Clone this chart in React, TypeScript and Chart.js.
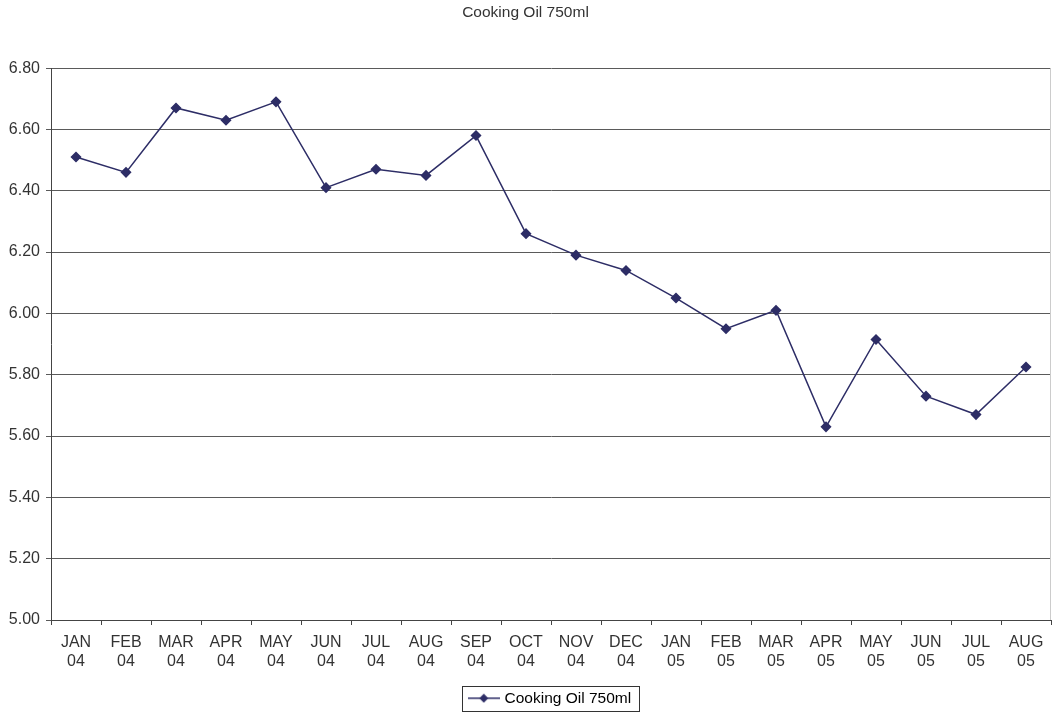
import React, { useEffect, useRef } from "react";
import { Chart, registerables } from "chart.js";

Chart.register(...registerables);

const chartTitle = "Cooking Oil 750ml";
const seriesName = "Cooking Oil 750ml";
const categories: string[][] = [
  ["JAN", "04"], ["FEB", "04"], ["MAR", "04"], ["APR", "04"], ["MAY", "04"],
  ["JUN", "04"], ["JUL", "04"], ["AUG", "04"], ["SEP", "04"], ["OCT", "04"],
  ["NOV", "04"], ["DEC", "04"], ["JAN", "05"], ["FEB", "05"], ["MAR", "05"],
  ["APR", "05"], ["MAY", "05"], ["JUN", "05"], ["JUL", "05"], ["AUG", "05"],
];
const prices: number[] = [
  6.51, 6.46, 6.67, 6.63, 6.69, 6.41, 6.47, 6.45, 6.58, 6.26,
  6.19, 6.14, 6.05, 5.95, 6.01, 5.63, 5.915, 5.73, 5.67, 5.825,
];
const yMin = 5.0;
const yMax = 6.8;
const yStep = 0.2;

const FONT = "'Liberation Sans', Arial, sans-serif";
const LINE = "#2d2d66";
const TEXT = "#333333";
const TICK_SIZE = 16;
const LABEL_SIZE = 15.5;

function makeLegendIcon(): HTMLCanvasElement {
  const c = document.createElement("canvas");
  c.width = 32;
  c.height = 10;
  const ctx = c.getContext("2d")!;
  ctx.strokeStyle = LINE;
  ctx.lineWidth = 1.5;
  ctx.beginPath();
  ctx.moveTo(0, 5);
  ctx.lineTo(32, 5);
  ctx.stroke();
  ctx.fillStyle = LINE;
  ctx.beginPath();
  ctx.moveTo(16, 0.5);
  ctx.lineTo(20.5, 5);
  ctx.lineTo(16, 9.5);
  ctx.lineTo(11.5, 5);
  ctx.closePath();
  ctx.fill();
  return c;
}

const framePlugin = {
  id: "framePlugin",
  afterDraw(chart: any) {
    const ctx = chart.ctx;
    const ca = chart.chartArea;
    ctx.save();
    ctx.strokeStyle = "#cccccc";
    ctx.lineWidth = 1;
    ctx.beginPath();
    ctx.moveTo(Math.round(ca.right) - 0.5, ca.top);
    ctx.lineTo(Math.round(ca.right) - 0.5, ca.bottom);
    ctx.stroke();
    const hb = chart.legend && chart.legend.legendHitBoxes && chart.legend.legendHitBoxes[0];
    if (hb) {
      const cy = hb.top + hb.height / 2;
      const left = Math.round(hb.left - 9) + 0.5;
      const right = Math.round(hb.left + hb.width + 8) + 0.5;
      const top = Math.round(cy - 12.5) + 0.5;
      const bottom = Math.round(cy + 12.5) + 0.5;
      ctx.strokeStyle = "#333333";
      ctx.lineWidth = 1;
      ctx.strokeRect(left, top, right - left, bottom - top);
    }
    ctx.restore();
  },
};

export default function App() {
  const ref = useRef<HTMLCanvasElement | null>(null);

  useEffect(() => {
    if (!ref.current) return;
    const icon = makeLegendIcon();
    const chart = new Chart(ref.current, {
      type: "line",
      data: {
        labels: categories,
        datasets: [
          {
            label: seriesName,
            data: prices,
            borderColor: LINE,
            backgroundColor: LINE,
            borderWidth: 1.5,
            pointStyle: "rectRot",
            pointRadius: 4.5,
            pointHoverRadius: 4.5,
            pointBackgroundColor: LINE,
            pointBorderColor: LINE,
            tension: 0,
          },
        ],
      },
      options: {
        responsive: false,
        animation: false,
        devicePixelRatio: 1,
        layout: { autoPadding: false, padding: { left: 0, right: 1, top: 0, bottom: -3 } },
        font: { family: FONT },
        plugins: {
          title: {
            display: true,
            text: chartTitle,
            color: TEXT,
            font: { family: FONT, size: LABEL_SIZE, weight: "normal" },
            padding: { top: 3, bottom: 46.5 },
          },
          legend: {
            display: true,
            position: "bottom",
            fullSize: false,
            labels: {
              color: TEXT,
              font: { family: FONT, size: LABEL_SIZE },
              usePointStyle: true,
              pointStyleWidth: 26,
              padding: 10,
              generateLabels: () => [
                {
                  text: seriesName,
                  pointStyle: icon as any,
                  fillStyle: LINE,
                  strokeStyle: LINE,
                  lineWidth: 0,
                  hidden: false,
                  datasetIndex: 0,
                } as any,
              ],
            },
          },
          tooltip: { enabled: false },
        },
        scales: {
          x: {
            type: "category",
            offset: true,
            grid: {
              offset: true,
              drawOnChartArea: false,
              drawTicks: true,
              tickLength: 5,
              color: "#444444",
            },
            border: { color: "#444444", width: 1 },
            ticks: {
              color: TEXT,
              font: { family: FONT, size: TICK_SIZE },
              padding: 8,
              maxRotation: 0,
              autoSkip: false,
            },
            afterFit: (scale: any) => {
              scale.paddingLeft = 0;
              scale.paddingRight = 0;
              scale.height = 60.5;
            },
          },
          y: {
            min: yMin,
            max: yMax,
            grid: {
              color: "#5a5a5a",
              tickLength: 5,
              drawTicks: true,
            },
            border: { color: "#444444", width: 1 },
            ticks: {
              stepSize: yStep,
              color: TEXT,
              font: { family: FONT, size: TICK_SIZE },
              padding: 6,
              callback: (v: any) => Number(v).toFixed(2),
            },
            afterFit: (scale: any) => {
              scale.width = 51;
            },
          },
        },
      },
      plugins: [framePlugin],
    });
    return () => chart.destroy();
  }, []);

  return (
    <div
      style={{
        position: "fixed",
        left: 0,
        top: 0,
        width: 1052,
        height: 713,
        background: "#ffffff",
      }}
    >
      <canvas ref={ref} width={1052} height={713} />
    </div>
  );
}
